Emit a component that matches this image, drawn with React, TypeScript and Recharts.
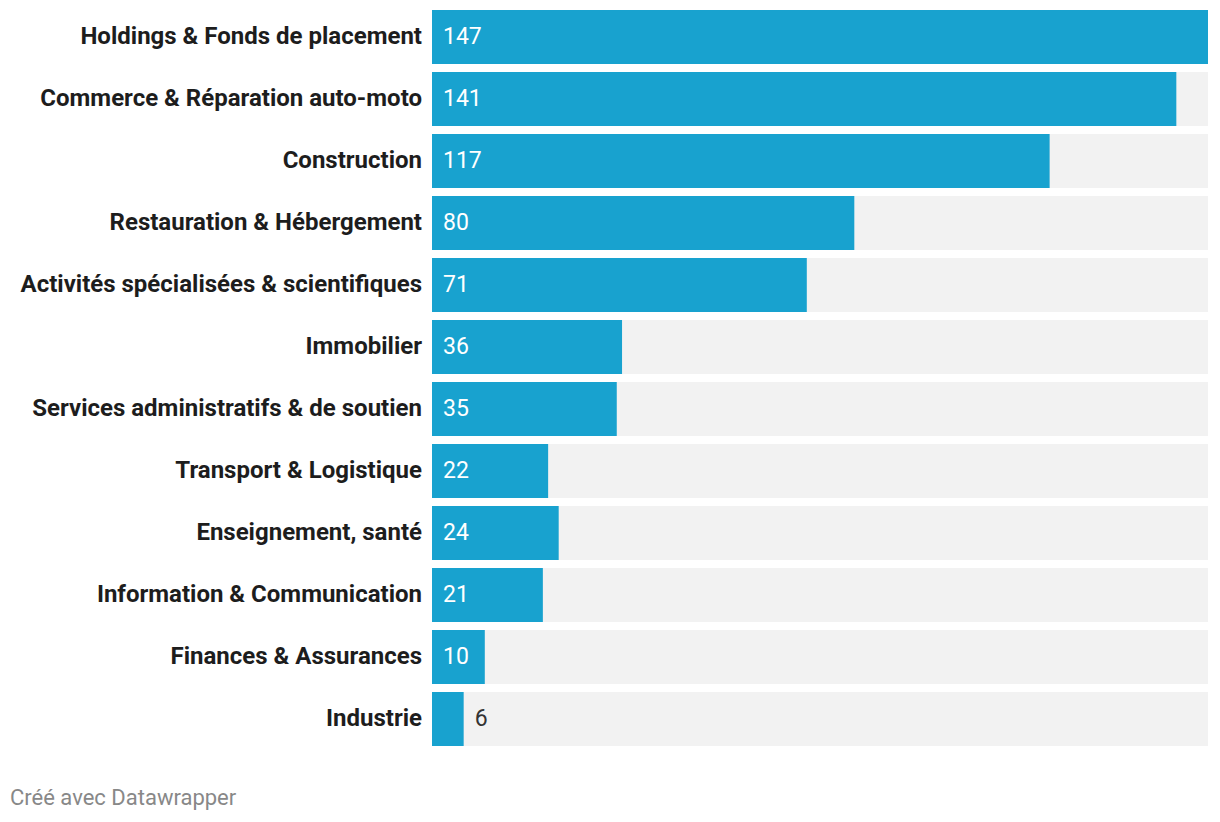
import { BarChart, Bar, XAxis, YAxis, LabelList } from "recharts";

// Secteurs d'activité
const sectors = [
  "Holdings & Fonds de placement",
  "Commerce & Réparation auto-moto",
  "Construction",
  "Restauration & Hébergement",
  "Activités spécialisées & scientifiques",
  "Immobilier",
  "Services administratifs & de soutien",
  "Transport & Logistique",
  "Enseignement, santé",
  "Information & Communication",
  "Finances & Assurances",
  "Industrie",
];

const counts = [147, 141, 117, 80, 71, 36, 35, 22, 24, 21, 10, 6];

const data = sectors.map((name, i) => ({ name, value: counts[i] }));

const FONT = "Roboto, 'Noto Sans', Arial, sans-serif";
const BAR_COLOR = "#18a2cf";

function SectorTick({ y, payload }: any) {
  return (
    <text
      x={422}
      y={y}
      dy={6.5}
      textAnchor="end"
      fontFamily={FONT}
      fontSize={24}
      fontWeight={700}
      fill="#1d1d1d"
    >
      {payload.value}
    </text>
  );
}

function ValueLabel({ x, y, width, height, value }: any) {
  const outside = width < 40;
  return (
    <text
      x={outside ? x + width + 11 : x + 11}
      y={y + height / 2}
      dy={7}
      fontFamily={FONT}
      fontSize={23}
      fill={outside ? "#333333" : "#ffffff"}
    >
      {value}
    </text>
  );
}

export default function App() {
  return (
    <div style={{ margin: -8, width: 1220, height: 822, background: "#fff", position: "relative" }}>
      <BarChart
        width={1220}
        height={752}
        data={data}
        layout="vertical"
        margin={{ top: 6, right: 12, bottom: 2, left: 0 }}
      >
        <XAxis type="number" domain={[0, 147]} hide />
        <YAxis
          type="category"
          dataKey="name"
          width={432}
          axisLine={false}
          tickLine={false}
          tick={<SectorTick />}
          interval={0}
        />
        <Bar
          dataKey="value"
          fill={BAR_COLOR}
          barSize={54}
          background={{ fill: "#f2f2f2" }}
          isAnimationActive={false}
        >
          <LabelList dataKey="value" content={<ValueLabel />} />
        </Bar>
      </BarChart>
      <div
        style={{
          position: "absolute",
          left: 10,
          top: 785,
          fontFamily: FONT,
          fontSize: 22,
          color: "#888888",
        }}
      >
        Créé avec Datawrapper
      </div>
    </div>
  );
}
